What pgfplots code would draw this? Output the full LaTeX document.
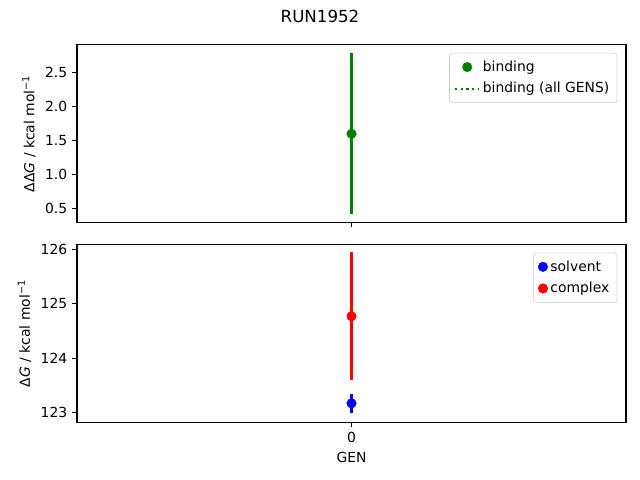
\documentclass[border=0pt]{standalone}
\usepackage{fontspec}
\setmainfont{DejaVu Sans}
\usepackage{pgfplots}
\pgfplotsset{compat=1.18}
\definecolor{mplgreen}{HTML}{008000}
\definecolor{mplblue}{HTML}{0000FF}
\definecolor{mplred}{HTML}{FF0000}

\pgfplotsset{
  runstyle/.style={
    scale only axis,
    width=395.3pt, height=128pt,
    xmin=-1, xmax=1,
    xtick={0},
    scaled x ticks=false,
    tick align=outside,
    xtick pos=bottom, ytick pos=left,
    major tick length=3.5pt,
    tick style={black, line width=0.8pt},
    axis line style={line width=0.8pt},
    font=\fontsize{10}{12}\selectfont,
    /pgf/number format/assume math mode=true,
    legend cell align=left,
    legend style={
      at={(0.984,0.955)}, anchor=north east,
      draw=black!20, rounded corners=2pt, fill=white,
      font=\fontsize{10}{12}\selectfont,
      row sep=2.5pt, inner sep=3.5pt,
    },
    error bars/error mark=none,
  },
}

\begin{document}
\begin{tikzpicture}
\path (0pt,0pt) rectangle (460.8pt,345.6pt);
\node at (230.4pt,334.1pt) {\fontsize{12}{14}\selectfont RUN1952};

% binding free energy
\begin{axis}[runstyle,
  at={(55.44pt,185.3pt)}, anchor=south west,
  ymin=0.287, ymax=2.915,
  ytick={0.5,1.0,1.5,2.0,2.5},
  yticklabel style={/pgf/number format/.cd, fixed, fixed zerofill, precision=1},
  xticklabels={},
  ylabel={ΔΔ\textit{G} / kcal mol\textsuperscript{−1}},
]
\addplot[only marks, mark=*, mark size=3.4pt, color=mplgreen,
  error bars/.cd, y dir=both, y explicit,
  error bar style={line width=1.5pt, mplgreen}]
  coordinates {(0,1.60) +- (0,1.19)};
\addlegendentry{binding}
\addlegendimage{mplgreen, line width=1.5pt, dash pattern=on 1.5pt off 2.5pt}
\addlegendentry{binding (all GENS)}
\end{axis}

% solvent and complex legs
\begin{axis}[runstyle,
  at={(55.44pt,41.5pt)}, anchor=south west,
  ymin=122.82, ymax=126.09,
  ytick={123,124,125,126},
  xlabel={GEN},
  ylabel={Δ\textit{G} / kcal mol\textsuperscript{−1}},
]
\addplot[only marks, mark=*, mark size=3.4pt, color=mplblue,
  error bars/.cd, y dir=both, y explicit,
  error bar style={line width=1.5pt, mplblue}]
  coordinates {(0,123.17) +- (0,0.18)};
\addlegendentry{solvent}
\addplot[only marks, mark=*, mark size=3.4pt, color=mplred,
  error bars/.cd, y dir=both, y explicit,
  error bar style={line width=1.5pt, mplred}]
  coordinates {(0,124.77) +- (0,1.18)};
\addlegendentry{complex}
\end{axis}
\end{tikzpicture}
\end{document}
